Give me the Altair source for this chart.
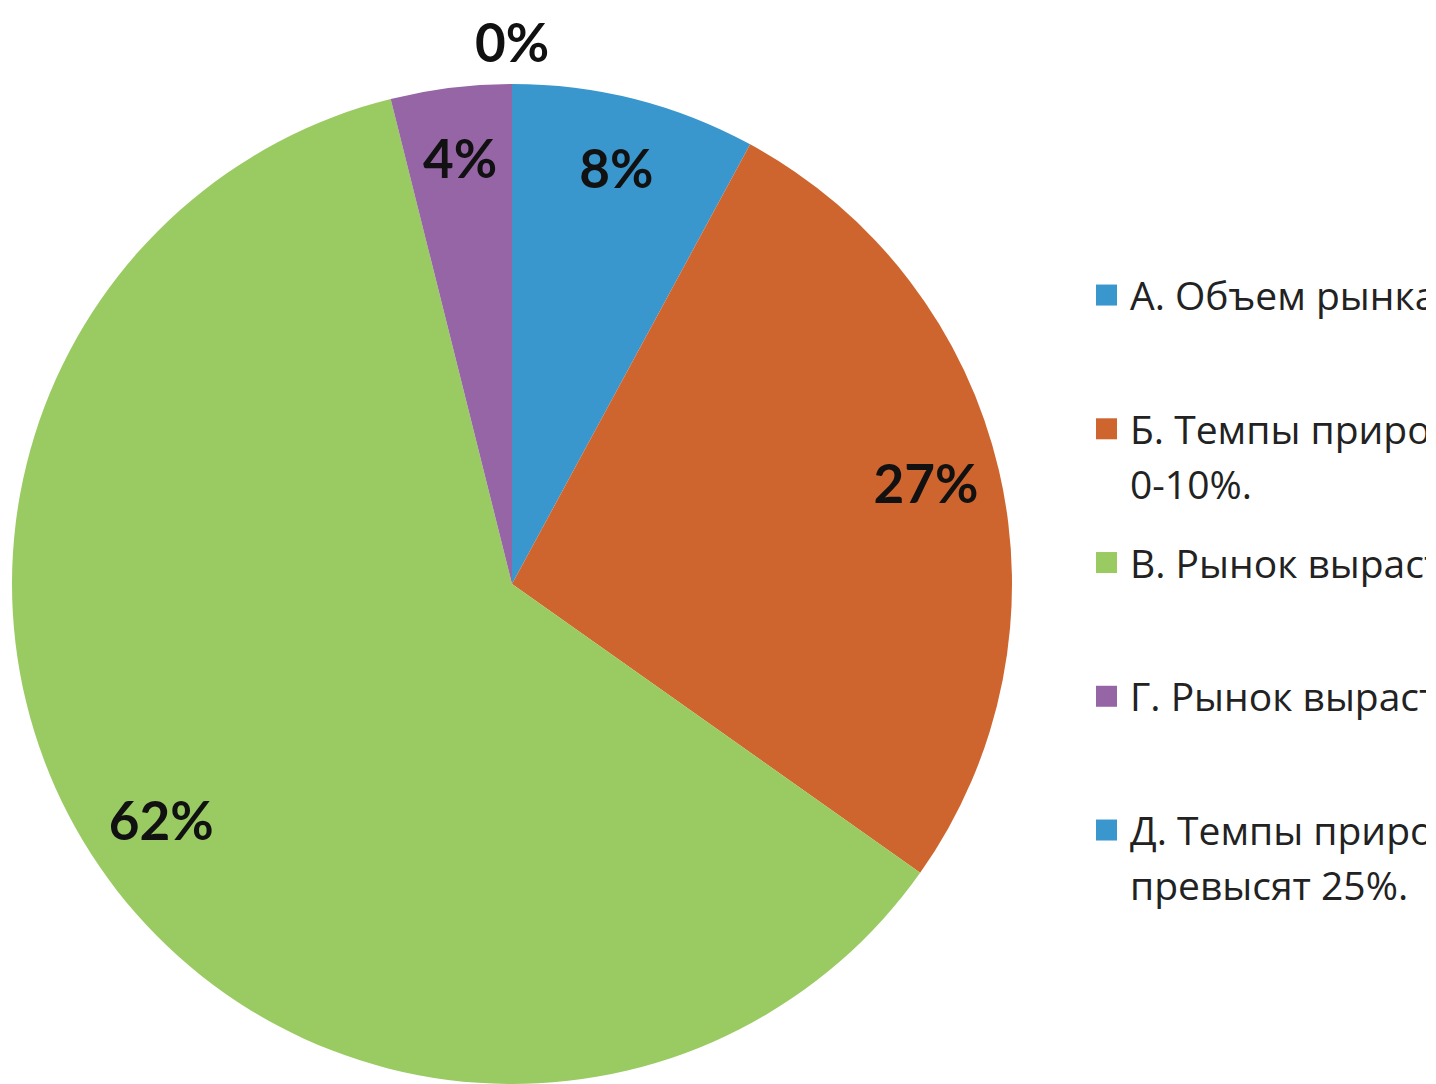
import altair as alt
import pandas as pd

# ---- data ----
cats = ["А", "Б", "В", "Г", "Д"]
values = [7.9, 26.9, 61.3, 3.9, 0.0]
labels = ["8%", "27%", "62%", "4%", "0%"]
legend_texts = [
    "А. Объем рынка сократится.",
    "Б. Темпы прироста рынка составят\n0-10%.",
    "В. Рынок вырастет на 10-25%.",
    "Г. Рынок вырастет более чем на 25%.",
    "Д. Темпы прироста рынка\nпревысят 25%.",
]
colors = ["#3A97CE", "#CF652E", "#9ACB62", "#9565A5", "#3A97CE"]

df = pd.DataFrame({"cat": cats, "value": values, "label": labels,
                   "text": legend_texts, "idx": list(range(len(cats)))})

R = 500
color_scale = alt.Scale(domain=cats, range=colors)

base = alt.Chart(df).encode(
    theta=alt.Theta("value:Q", stack=True),
    order=alt.Order("idx:Q"),
)

arcs = base.mark_arc(radius=R).encode(
    color=alt.Color("cat:N", scale=color_scale, legend=None)
)

inner = base.mark_text(radius=R * 0.85, font="Lato", fontSize=53, fontWeight="bold",
                       color="#111111", align="center", baseline="middle").encode(
    text=alt.condition("datum.value > 0", alt.Text("label:N"), alt.value(""))
)
outer = base.mark_text(radius=R * 1.076, font="Lato", fontSize=53, fontWeight="bold",
                       color="#111111", align="center", baseline="middle").encode(
    text=alt.condition("datum.value > 0", alt.value(""), alt.Text("label:N"))
)

pie = alt.layer(arcs, inner, outer).properties(width=2 * R, height=2 * R)

leg_base = alt.Chart(df).encode(
    y=alt.Y("idx:Q", scale=alt.Scale(domain=[-1.578, 5.899], reverse=True, nice=False,
                                     zero=False), axis=None)
)
squares = leg_base.mark_square(size=441, opacity=1).encode(
    x=alt.value(16.5),
    color=alt.Color("cat:N", scale=color_scale, legend=None),
)
texts = leg_base.mark_text(align="left", baseline="top", dy=-16, font="Open Sans",
                           fontSize=39, lineHeight=55, lineBreak="\n", clip=True,
                           color="#222222").encode(
    x=alt.value(40),
    text="text:N",
)
legend = alt.layer(squares, texts).properties(width=336, height=2 * R)

chart = alt.hconcat(pie, legend, spacing=78, bounds="flush").properties(
    padding={"left": 4, "top": 12, "right": 0, "bottom": 0},
    background="white",
).configure_view(strokeWidth=0)

chart.save("out.html", embed_options={"renderer": "svg", "actions": False})
